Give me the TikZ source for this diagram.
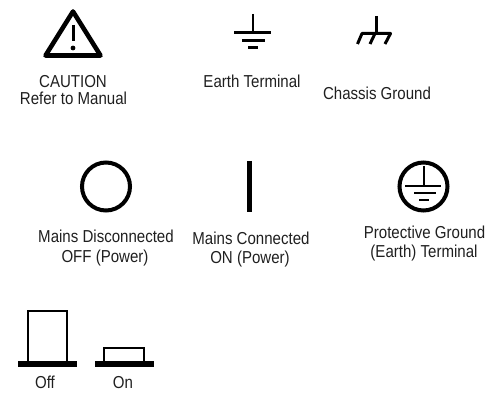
\documentclass[tikz,border=0pt]{standalone}
\usepackage{fontspec}
\setmainfont[FakeStretch=0.87]{Liberation Sans}
\tikzset{
 lbl/.style={anchor=base,inner sep=0pt,text=black!88,font=\fontsize{17.3}{17.3}\selectfont},
 sym/.style={draw=black,line width=3pt},
 thin sym/.style={draw=black,line width=2pt}
}
\begin{document}
\begin{tikzpicture}[x=1pt,y=-1pt]
\useasboundingbox (0,0) rectangle (504,393);
% caution
\draw[sym,line width=4.6pt,line join=round] (73,11.5) -- (45.5,55.5) -- (100.5,55.5) -- cycle;
\draw[black,line width=3pt] (73,25) -- (73,41);
\fill[black] (73,48) circle (2.4);
\node[lbl] (caution) at (73,88) {CAUTION};
\node[lbl] (refer) at (73.5,105) {Refer to Manual};
% earth
\draw[thin sym] (252.7,14) -- (252.7,33);
\draw[sym] (234,33) -- (271,33);
\draw[sym] (242,41) -- (265,41);
\draw[sym] (248,47.5) -- (258,47.5);
\node[lbl] (earth) at (252,88) {Earth Terminal};
% chassis
\draw[thin sym,line width=2.5pt] (376.5,16) -- (376.5,33);
\draw[sym,line join=round] (357.5,44) -- (362,33.5) -- (390.5,33.5) -- (385,44);
\draw[sym] (375,33.5) -- (370,44);
\node[lbl] (chassis) at (377,100) {Chassis Ground};
% off circle
\draw[sym,line width=4pt] (106,186.5) circle (24);
\node[lbl] (mdis) at (106,243) {Mains Disconnected};
\node[lbl] (moff) at (105,262) {OFF (Power)};
% on bar
\draw[black,line width=5.5pt] (249.7,161) -- (249.7,212.5);
\node[lbl] (mcon) at (251,244) {Mains Connected};
\node[lbl] (mon) at (250,263) {ON (Power)};
% protective
\draw[sym,line width=4pt] (423.5,186.5) circle (24);
\draw[thin sym] (424,166) -- (424,186);
\draw[thin sym,line width=2.5pt] (405,186) -- (441,186);
\draw[sym,line width=2.5pt] (414,193) -- (436,193);
\draw[sym,line width=2.5pt] (419,200) -- (429,200);
\node[lbl] (prot) at (424.5,239) {Protective Ground};
\node[lbl] (ptm) at (424,258) {(Earth) Terminal};
% switches
\draw[thin sym] (28,362) -- (28,311) -- (67,311) -- (67,362);
\draw[black,line width=6pt] (18,364) -- (77,364);
\node[lbl] (off) at (45,388) {Off};
\draw[thin sym] (104,362) -- (104,348) -- (144,348) -- (144,362);
\draw[black,line width=6pt] (95,364) -- (154,364);
\node[lbl] (on) at (123,388) {On};
\end{tikzpicture}
\end{document}
